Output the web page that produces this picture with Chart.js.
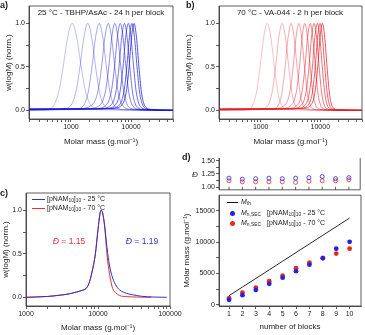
<!DOCTYPE html>
<html><head><meta charset="utf-8">
<script src="https://cdn.jsdelivr.net/npm/chart.js@4.4.0/dist/chart.umd.min.js"></script>
<style>
html,body{margin:0;padding:0;background:#fff;}
#wrap{position:relative;width:365px;height:335px;overflow:hidden;font-family:"Liberation Sans",Arial,sans-serif;color:#222;}
canvas{position:absolute;}
.t{position:absolute;white-space:nowrap;line-height:1;}
.t sub{font-size:0.7em;vertical-align:-0.25em;line-height:0;}
.b{font-weight:bold;font-size:9px;}
</style></head><body>
<div id="wrap">
<canvas id="ca" width="180" height="150" style="left:0;top:0"></canvas>
<canvas id="cb" width="182" height="150" style="left:183px;top:0"></canvas>
<canvas id="cc" width="185" height="175" style="left:0;top:160px"></canvas>
<canvas id="cd1" width="185" height="45" style="left:180px;top:150px"></canvas>
<canvas id="cd2" width="185" height="145" style="left:180px;top:190px"></canvas>

<div class="t b" style="left:0;top:1px">a)</div>
<div class="t b" style="left:186px;top:1px">b)</div>
<div class="t b" style="left:0;top:189px">c)</div>
<div class="t b" style="left:182px;top:153px">d)</div>

<div class="t" style="left:101px;top:9px;font-size:8px;transform:translateX(-50%)">25 °C - TBHP/AsAc - 24 h per block</div>
<div class="t" style="left:290px;top:9px;font-size:8px;transform:translateX(-50%)">70 °C - VA-044 - 2 h per block</div>

<div style="position:absolute;left:32px;top:198.5px;width:13px;height:1px;background:#3333c4"></div>
<div class="t" style="left:47px;top:195px;font-size:7px">[pNAM<sub>10</sub>]<sub>10</sub> - 25 °C</div>
<div style="position:absolute;left:32px;top:207.5px;width:13px;height:1px;background:#e4303a"></div>
<div class="t" style="left:47px;top:204px;font-size:7px">[pNAM<sub>10</sub>]<sub>10</sub> - 70 °C</div>
<div class="t" style="left:69px;top:237px;font-size:8.5px;color:#e4303a;transform:translateX(-50%)"><i>Đ</i> = 1.15</div>
<div class="t" style="left:142px;top:237px;font-size:8.5px;color:#3333c4;transform:translateX(-50%)"><i>Đ</i> = 1.19</div>

<div class="t" style="left:192px;top:171px;font-size:8px"><i>Đ</i></div>

<div style="position:absolute;left:227px;top:201.5px;width:11px;height:1px;background:#111"></div>
<div class="t" style="left:241px;top:197.5px;font-size:7px"><i>M</i><sub>th</sub></div>
<div style="position:absolute;left:229.5px;top:210.5px;width:5px;height:5px;border-radius:50%;background:#2424e0"></div>
<div class="t" style="left:241px;top:209px;font-size:7px"><i>M</i><sub>n,SEC</sub></div>
<div class="t" style="left:267px;top:209px;font-size:7px">[pNAM<sub>10</sub>]<sub>10</sub> - 25 °C</div>
<div style="position:absolute;left:229.5px;top:220.5px;width:5px;height:5px;border-radius:50%;background:#e8281e"></div>
<div class="t" style="left:241px;top:219px;font-size:7px"><i>M</i><sub>n,SEC</sub></div>
<div class="t" style="left:267px;top:219px;font-size:7px">[pNAM<sub>10</sub>]<sub>10</sub> - 70 °C</div>
</div>
<script>
// ---------- DATA ----------
// Panel a: 25 °C, 10 blocks (molar mass g/mol, normalised w(logM))
const massA = [
 [200, 316, 442, 525, 624, 741, 881, 1047, 1245, 1479, 1758, 2089, 2483, 3508, 50000],
 [200, 668, 902, 1047, 1216, 1413, 1641, 1905, 2213, 2570, 2985, 3467, 4027, 5433, 50000],
 [200, 1122, 1479, 1698, 1950, 2239, 2570, 2951, 3388, 3890, 4467, 5129, 5888, 7762, 50000],
 [200, 912, 1718, 2213, 2512, 2851, 3236, 3673, 4169, 4732, 5370, 6095, 6918, 7852, 10116, 50000],
 [200, 1349, 2399, 3020, 3388, 3802, 4266, 4786, 5370, 6026, 6761, 7586, 8511, 9550, 12023, 50000],
 [200, 1778, 3073, 3824, 4266, 4760, 5309, 5922, 6607, 7370, 8222, 9173, 10233, 11416, 14210, 50000],
 [200, 2239, 3758, 4624, 5129, 5689, 6310, 6998, 7762, 8610, 9550, 10593, 11749, 13032, 16033, 50000],
 [200, 2673, 4436, 5433, 6012, 6653, 7362, 8147, 9016, 9977, 11041, 12218, 13521, 14962, 18323, 50000],
 [200, 3199, 5218, 6347, 6998, 7719, 8511, 9386, 10351, 11416, 12589, 13880, 15311, 16886, 20535, 50000],
 [200, 3614, 5794, 6998, 7691, 8453, 9290, 10209, 11220, 12331, 13552, 14893, 16368, 17989, 21727, 50000]
];
const wA = [
 [0, 0.003, 0.014, 0.065, 0.21, 0.5, 0.84, 1, 0.84, 0.5, 0.21, 0.07, 0.02, 0.005, 0],
 [0.003, 0.01, 0.03, 0.08, 0.22, 0.5, 0.84, 1, 0.84, 0.5, 0.21, 0.07, 0.025, 0.008, 0],
 [0.004, 0.01, 0.03, 0.08, 0.22, 0.5, 0.84, 1, 0.84, 0.5, 0.21, 0.07, 0.025, 0.008, 0],
 [0.006, 0.012, 0.025, 0.06, 0.11, 0.24, 0.5, 0.84, 1, 0.84, 0.5, 0.21, 0.075, 0.03, 0.01, 0],
 [0.008, 0.013, 0.025, 0.06, 0.11, 0.24, 0.5, 0.84, 1, 0.84, 0.5, 0.21, 0.075, 0.03, 0.01, 0],
 [0.01, 0.014, 0.025, 0.06, 0.11, 0.24, 0.5, 0.84, 1, 0.84, 0.5, 0.21, 0.075, 0.03, 0.01, 0],
 [0.012, 0.015, 0.025, 0.06, 0.11, 0.24, 0.5, 0.84, 1, 0.84, 0.5, 0.21, 0.075, 0.03, 0.01, 0],
 [0.013, 0.016, 0.025, 0.06, 0.11, 0.24, 0.5, 0.84, 1, 0.84, 0.5, 0.21, 0.075, 0.03, 0.01, 0],
 [0.014, 0.017, 0.025, 0.06, 0.11, 0.24, 0.5, 0.84, 1, 0.84, 0.5, 0.21, 0.075, 0.03, 0.01, 0],
 [0.015, 0.018, 0.025, 0.06, 0.11, 0.24, 0.5, 0.84, 1, 0.84, 0.5, 0.21, 0.075, 0.03, 0.01, 0]
];
// Panel b: 70 °C, 10 blocks
const massB = [
 [200, 490, 646, 741, 851, 977, 1122, 1288, 1479, 1698, 1950, 2239, 2570, 3388, 50000],
 [200, 944, 1216, 1380, 1567, 1778, 2018, 2291, 2600, 2951, 3350, 3802, 4315, 5559, 50000],
 [200, 1445, 1820, 2042, 2291, 2570, 2884, 3236, 3631, 4074, 4571, 5129, 5754, 7244, 50000],
 [200, 1175, 2030, 2527, 2818, 3145, 3508, 3914, 4365, 4870, 5433, 6061, 6761, 7543, 9387, 50000],
 [200, 1585, 2661, 3273, 3631, 4027, 4467, 4955, 5495, 6095, 6761, 7499, 8318, 9226, 11350, 50000],
 [200, 2032, 3354, 4098, 4529, 5006, 5534, 6116, 6761, 7475, 8260, 9130, 10093, 11156, 13630, 50000],
 [200, 2427, 3959, 4813, 5309, 5855, 6457, 7120, 7852, 8660, 9550, 10530, 11614, 12808, 15578, 50000],
 [200, 2831, 4566, 5527, 6081, 6691, 7362, 8100, 8913, 9806, 10789, 11875, 13062, 14406, 17398, 50000],
 [200, 3273, 5188, 6237, 6839, 7499, 8222, 9016, 9886, 10839, 11885, 13032, 14289, 15668, 18836, 50000],
 [200, 3690, 5781, 6918, 7568, 8279, 9057, 9908, 10839, 11858, 12971, 14191, 15524, 16982, 20324, 50000]
];
const wB = [
 [0, 0.003, 0.014, 0.065, 0.21, 0.5, 0.84, 1, 0.84, 0.5, 0.2, 0.06, 0.02, 0.005, 0],
 [0.003, 0.01, 0.03, 0.08, 0.22, 0.5, 0.84, 1, 0.84, 0.5, 0.2, 0.06, 0.02, 0.005, 0],
 [0.004, 0.01, 0.03, 0.08, 0.22, 0.5, 0.84, 1, 0.84, 0.5, 0.2, 0.06, 0.02, 0.005, 0],
 [0.006, 0.012, 0.025, 0.06, 0.11, 0.24, 0.5, 0.84, 1, 0.84, 0.5, 0.2, 0.06, 0.02, 0.005, 0],
 [0.008, 0.013, 0.025, 0.06, 0.11, 0.24, 0.5, 0.84, 1, 0.84, 0.5, 0.2, 0.06, 0.02, 0.005, 0],
 [0.01, 0.014, 0.025, 0.06, 0.11, 0.24, 0.5, 0.84, 1, 0.84, 0.5, 0.2, 0.06, 0.02, 0.005, 0],
 [0.012, 0.015, 0.025, 0.06, 0.11, 0.24, 0.5, 0.84, 1, 0.84, 0.5, 0.2, 0.06, 0.02, 0.005, 0],
 [0.013, 0.016, 0.025, 0.06, 0.11, 0.24, 0.5, 0.84, 1, 0.84, 0.5, 0.2, 0.06, 0.02, 0.005, 0],
 [0.014, 0.017, 0.025, 0.06, 0.11, 0.24, 0.5, 0.84, 1, 0.84, 0.5, 0.2, 0.06, 0.02, 0.005, 0],
 [0.015, 0.018, 0.025, 0.06, 0.11, 0.24, 0.5, 0.84, 1, 0.84, 0.5, 0.2, 0.06, 0.02, 0.005, 0]
];
// Panel c: final [pNAM10]10 distributions
const massC25 = [1000, 2000, 3000, 4000, 5000, 6000, 6800, 7500, 8200, 9200, 10000, 10600, 11000, 11600, 12400, 13300, 14500, 16000, 18000, 20000, 25000, 30000, 40000, 60000, 90000];
const wC25 = [0, 0.01, 0.025, 0.04, 0.06, 0.08, 0.1, 0.16, 0.28, 0.5, 0.78, 0.95, 1, 0.97, 0.82, 0.58, 0.36, 0.22, 0.13, 0.085, 0.045, 0.03, 0.012, 0.003, 0];
const massC70 = [1000, 2000, 3000, 4000, 5000, 6000, 6800, 7500, 8200, 9200, 10000, 10600, 11000, 11600, 12400, 13300, 14500, 16000, 17800, 20000, 25000, 35000, 55000];
const wC70 = [0, 0.01, 0.025, 0.04, 0.06, 0.08, 0.1, 0.16, 0.28, 0.5, 0.78, 0.95, 1, 0.97, 0.8, 0.5, 0.26, 0.1, 0.05, 0.02, 0.008, 0.003, 0];
// Panel d
const blocks = [1, 2, 3, 4, 5, 6, 7, 8, 9, 10];
const mnTheory = [1450, 2830, 4200, 5580, 6960, 8340, 9720, 11100, 12470, 13850];
const mn25 = [780, 1530, 2370, 3350, 4320, 5360, 6400, 7420, 8960, 10050];
const mn70 = [1050, 1950, 2750, 3750, 4640, 5830, 6720, 7500, 8180, 8960];
const disp25 = [1.17, 1.15, 1.16, 1.17, 1.16, 1.17, 1.18, 1.20, 1.16, 1.18];
const disp70 = [1.12, 1.10, 1.10, 1.10, 1.10, 1.09, 1.11, 1.12, 1.12, 1.14];
// Ticks
const ticksAB = [200, 300, 400, 500, 600, 700, 800, 900, 1000, 2000, 3000, 4000, 5000, 6000, 7000, 8000, 9000, 10000, 20000, 30000, 40000, 50000];
const labelsAB = [1000, 10000];
const ticksC = [1000, 2000, 3000, 4000, 5000, 6000, 7000, 8000, 9000, 10000, 20000, 30000, 40000, 50000, 60000, 70000, 80000, 90000, 100000];
const labelsC = [1000, 10000, 100000];
const ticksW = [0, 0.25, 0.5, 0.75, 1];
const labelsW = [0, 0.5, 1];
const ticksDisp = [1, 1.125, 1.25, 1.375, 1.5];
const labelsDisp = [1, 1.25, 1.5];
const ticksMass = [0, 2500, 5000, 7500, 10000, 12500, 15000];
const labelsMass = [0, 5000, 10000, 15000];

// ---------- DRAWING ----------
const FONT = "'Liberation Sans', Arial, sans-serif";
const TXT = '#222';
const AX = '#333';

const framePlugin = {
  id: 'frame',
  afterDraw(chart, args, opts) {
    const {ctx, chartArea: {left, right, top, bottom}} = chart;
    ctx.save();
    ctx.strokeStyle = AX; ctx.lineWidth = 0.8;
    ctx.beginPath();
    if (opts.top !== false) { ctx.moveTo(left, top); ctx.lineTo(right, top); }
    ctx.moveTo(right, top); ctx.lineTo(right, bottom);
    ctx.moveTo(left, top); ctx.lineTo(left, bottom);
    ctx.moveTo(left, bottom); ctx.lineTo(right, bottom);
    if (opts.upTicks) {
      const xs = chart.scales.x;
      opts.upTicks.forEach(v => { const px = xs.getPixelForValue(v); ctx.moveTo(px, bottom); ctx.lineTo(px, bottom - 3); });
    }
    ctx.stroke();
    ctx.restore();
  }
};

function axis(o) {
  return {
    type: o.type || 'linear', min: o.min, max: o.max, display: o.display !== false,
    afterFit: s => { if (o.isY) s.width = o.size; else s.height = o.size; },
    afterBuildTicks: s => { s.ticks = o.ticks.map(v => ({value: v})); },
    grid: {display: true, drawOnChartArea: false, drawTicks: true, tickLength: 3, color: AX, tickColor: AX, lineWidth: 0.8},
    border: {display: true, color: AX, width: 0.8},
    ticks: {autoSkip: false, maxRotation: 0, minRotation: 0, padding: 1, color: TXT,
      font: {family: FONT, size: 7}, callback: v => o.labels.includes(v) ? o.fmt(v) : ''},
    title: o.title ? {display: true, text: o.title, color: TXT, font: {family: FONT, size: 8},
      padding: {top: o.titlePad, bottom: o.titlePad}} : {display: false}
  };
}

function mk(id, datasets, xs, ys, padding, frame) {
  return new Chart(document.getElementById(id), {
    type: 'scatter',
    data: {datasets},
    options: {
      responsive: false, animation: false, events: [],
      layout: {padding},
      plugins: {legend: {display: false}, tooltip: {enabled: false}, frame: frame || {}},
      scales: {x: xs, y: ys}
    },
    plugins: [framePlugin]
  });
}

function curveSets(masses, ws, rgb) {
  return masses.map((m, k) => ({
    data: m.map((x, i) => ({x, y: ws[k][i]})),
    showLine: true, pointRadius: 0, borderWidth: 0.8,
    borderColor: `rgba(${rgb},${(0.35 + 0.065 * k).toFixed(3)})`,
    cubicInterpolationMode: 'monotone'
  }));
}
const f1 = v => v.toFixed(1);
const molarTitle = 'Molar mass (g.mol\u207B\u00B9)';
const wTitle = 'w(logM) (norm.)';

// a
mk('ca', curveSets(massA, wA, '25,25,215'),
  axis({type: 'logarithmic', min: 200, max: 50000, ticks: ticksAB, labels: labelsAB, fmt: String, title: molarTitle, size: 31, titlePad: 3.5}),
  axis({isY: true, min: -0.1, max: 1.2, ticks: ticksW, labels: labelsW, fmt: f1, title: wTitle, size: 29, titlePad: 3.5}),
  {left: 0, top: 6, right: 7, bottom: 0});
// b
mk('cb', curveSets(massB, wB, '228,28,38'),
  axis({type: 'logarithmic', min: 200, max: 50000, ticks: ticksAB, labels: labelsAB, fmt: String, title: molarTitle, size: 31, titlePad: 3.5}),
  axis({isY: true, min: -0.1, max: 1.2, ticks: ticksW, labels: labelsW, fmt: f1, title: wTitle, size: 36, titlePad: 0.5}),
  {left: 0, top: 6, right: 3, bottom: 0});
// c
mk('cc', [
    {data: massC25.map((x, i) => ({x, y: wC25[i]})), showLine: true, pointRadius: 0, borderWidth: 1, borderColor: '#3333c4', cubicInterpolationMode: 'monotone'},
    {data: massC70.map((x, i) => ({x, y: wC70[i]})), showLine: true, pointRadius: 0, borderWidth: 1, borderColor: '#e4303a', cubicInterpolationMode: 'monotone'}
  ],
  axis({type: 'logarithmic', min: 1000, max: 100000, ticks: ticksC, labels: labelsC, fmt: String, title: molarTitle, size: 29, titlePad: 2.5}),
  axis({isY: true, min: -0.1, max: 1.2, ticks: ticksW, labels: labelsW, fmt: f1, title: wTitle, size: 26, titlePad: 0.5}),
  {left: 0, top: 33, right: 15, bottom: 0});
// d top (dispersity)
mk('cd1', [
    {data: blocks.map((x, i) => ({x, y: disp25[i]})), pointRadius: 2, pointBorderWidth: 0.8, pointBackgroundColor: 'rgba(0,0,0,0)', pointBorderColor: '#2424e0'},
    {data: blocks.map((x, i) => ({x, y: disp70[i]})), pointRadius: 2, pointBorderWidth: 0.8, pointBackgroundColor: 'rgba(0,0,0,0)', pointBorderColor: '#e8281e'}
  ],
  axis({display: false, min: 0.25, max: 10.85, ticks: blocks, labels: [], fmt: String, size: 0}),
  axis({isY: true, min: 0.95, max: 1.55, ticks: ticksDisp, labels: labelsDisp, fmt: v => v.toFixed(2), size: 39}),
  {left: 0, top: 8, right: 2, bottom: 3}, {top: false, upTicks: blocks});
// d bottom (molar mass vs blocks)
mk('cd2', [
    {data: blocks.map((x, i) => ({x, y: mnTheory[i]})), showLine: true, pointRadius: 0, borderWidth: 0.9, borderColor: '#111'},
    {data: blocks.map((x, i) => ({x, y: mn25[i]})), pointRadius: 2.4, pointBorderWidth: 0, pointBackgroundColor: '#2424e0'},
    {data: blocks.map((x, i) => ({x, y: mn70[i]})), pointRadius: 2.4, pointBorderWidth: 0, pointBackgroundColor: '#e8281e'}
  ],
  axis({min: 0.25, max: 10.85, ticks: blocks, labels: blocks, fmt: String, title: 'number of blocks', size: 29, titlePad: 3.5}),
  axis({isY: true, min: -200, max: 17500, ticks: ticksMass, labels: labelsMass, fmt: String, title: molarTitle, size: 39, titlePad: 1.5}),
  {left: 0, top: 2, right: 2, bottom: 0});
</script>
</body></html>
